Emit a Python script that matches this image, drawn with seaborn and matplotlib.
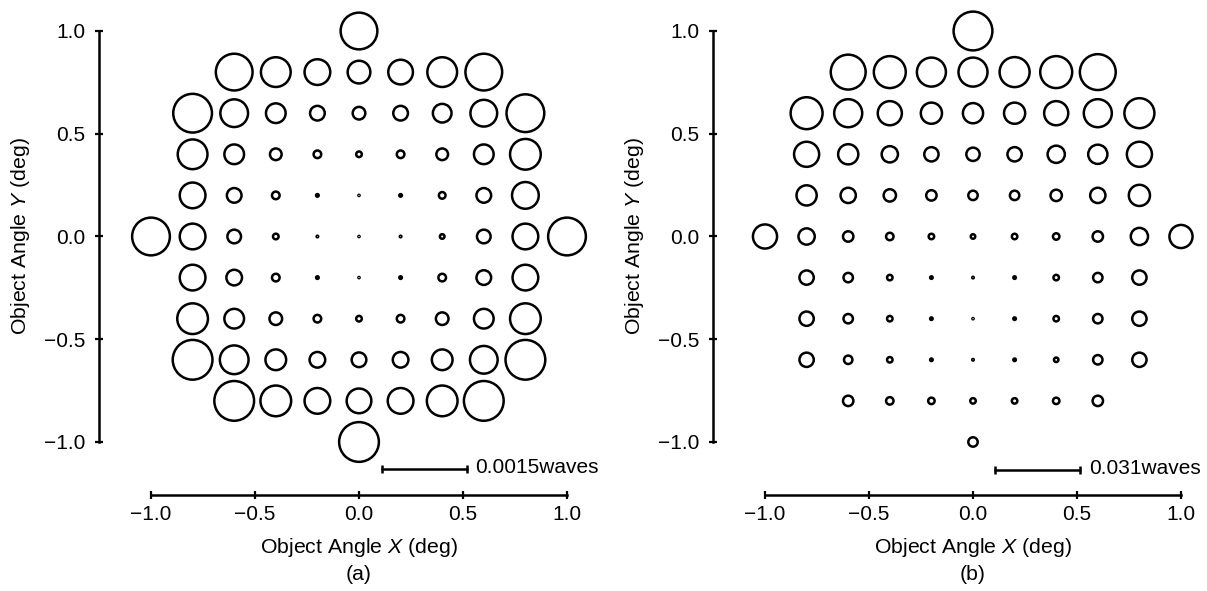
import numpy as np
import pandas as pd
import matplotlib
matplotlib.use("Agg")
import matplotlib.pyplot as plt
import seaborn as sns

# ---------------- data ----------------
field_x = [-1.0, -0.8, -0.6, -0.4, -0.2, 0.0, 0.2, 0.4, 0.6, 0.8, 1.0]
field_y = [1.0, 0.8, 0.6, 0.4, 0.2, 0.0, -0.2, -0.4, -0.6, -0.8, -1.0]
_ = None

# panel (a): wavefront error per field point, units of 1e-4 waves
wfe_a = [
    [_, _, _, _, _, 6.53, _, _, _, _, _],
    [_, _, 6.53, 5.30, 4.59, 4.06, 4.41, 5.30, 6.53, _, _],
    [_, 6.88, 4.94, 3.53, 2.65, 2.29, 2.65, 3.35, 4.77, 6.71, _],
    [_, 5.30, 3.53, 2.12, 1.41, 1.06, 1.41, 2.12, 3.53, 5.47, _],
    [_, 4.59, 2.65, 1.41, 0.53, 0.18, 0.53, 1.24, 2.65, 4.77, _],
    [6.71, 4.59, 2.47, 1.06, 0.35, 0.05, 0.35, 0.88, 2.47, 4.59, 6.71],
    [_, 4.59, 2.82, 1.41, 0.53, 0.18, 0.53, 1.41, 2.65, 4.59, _],
    [_, 5.47, 3.53, 2.29, 1.41, 1.06, 1.41, 2.29, 3.53, 5.47, _],
    [_, 7.06, 5.12, 3.71, 2.82, 2.65, 2.82, 3.71, 4.94, 7.06, _],
    [_, _, 7.06, 5.47, 4.59, 4.41, 4.59, 5.47, 7.06, _, _],
    [_, _, _, _, _, 7.06, _, _, _, _, _],
]
unit_a = 1e-4
scale_a = 0.0015
scale_label_a = "0.0015waves"

# panel (b): wavefront error per field point, units of 1e-3 waves
wfe_b = [
    [_, _, _, _, _, 14.25, _, _, _, _, _],
    [_, _, 12.83, 11.76, 10.69, 10.69, 11.05, 11.76, 13.18, _, _],
    [_, 11.76, 10.33, 8.91, 7.84, 7.48, 7.84, 8.91, 10.33, 11.05, _],
    [_, 9.26, 7.48, 6.06, 5.34, 4.99, 5.34, 6.41, 7.13, 9.26, _],
    [_, 7.48, 5.70, 4.63, 3.92, 3.56, 3.56, 4.28, 5.70, 7.84, _],
    [8.91, 6.06, 3.92, 2.85, 2.14, 1.78, 2.14, 2.49, 3.92, 6.41, 8.55],
    [_, 5.34, 3.56, 2.14, 1.07, 0.71, 1.07, 2.14, 3.56, 5.34, _],
    [_, 5.34, 3.56, 2.14, 1.07, 0.36, 1.07, 2.14, 3.56, 5.34, _],
    [_, 5.34, 3.21, 2.14, 1.07, 0.71, 1.07, 1.78, 3.56, 5.34, _],
    [_, _, 3.92, 2.85, 2.49, 2.14, 2.14, 2.49, 3.92, _, _],
    [_, _, _, _, _, 3.56, _, _, _, _, _],
]
unit_b = 1e-3
scale_b = 0.031
scale_label_b = "0.031waves"

ticks = [-1.0, -0.5, 0.0, 0.5, 1.0]
xlabel = "Object Angle $\\mathit{X}$ (deg)"
ylabel = "Object Angle $\\mathit{Y}$ (deg)"
panel_tags = ["(a)", "(b)"]

# ---------------- style ----------------
sns.set_theme(style="white")
plt.rcParams["font.family"] = ["Liberation Sans", "DejaVu Sans"]
plt.rcParams["mathtext.fontset"] = "custom"
plt.rcParams["mathtext.rm"] = "Liberation Sans"
plt.rcParams["mathtext.it"] = "Liberation Sans:italic"

W, H, DPI = 1207, 591, 100
fig = plt.figure(figsize=(W / DPI, H / DPI), dpi=DPI)
fig.patch.set_facecolor("white")

XLIM = (-1.25, 1.12)
YLIM = (-1.258, 1.12)
bar_len = 0.41          # data-units length of the scale bar
circle_lw = 1.8         # pt
FS_TICK = 15
FS_LAB = 15.3

def to_frame(grid, unit):
    rows = []
    for i, yy in enumerate(field_y):
        for j, xx in enumerate(field_x):
            v = grid[i][j]
            if v is not None:
                rows.append({"x": xx, "y": yy, "wfe": v * unit})
    return pd.DataFrame(rows)

panels = [
    (wfe_a, unit_a, scale_a, scale_label_a, 99, 0.11, -1.131),
    (wfe_b, unit_b, scale_b, scale_label_b, 713, 0.106, -1.136),
]

ax_w_px = (XLIM[1] - XLIM[0]) * 208
bottom_px = 495
top_px = 31 - (YLIM[1] - 1.0) * 205.5

for k, (grid, unit, scale, slabel, left_px, bar_x0, bar_y) in enumerate(panels):
    ax = fig.add_axes([left_px / W, 1 - bottom_px / H, ax_w_px / W,
                       (bottom_px - top_px) / H])
    ax.set_xlim(*XLIM)
    ax.set_ylim(*YLIM)
    ax.set_facecolor("white")

    df = to_frame(grid, unit)
    # circle diameter in data units, proportional to the wavefront error
    d_data = df["wfe"].to_numpy() / scale * bar_len
    px_per_unit = ax.transData.transform((1, 0))[0] - ax.transData.transform((0, 0))[0]
    d_px = np.clip(d_data * px_per_unit - 0.4, 1.2, None)
    s_pt2 = (d_px * 72 / DPI) ** 2

    sns.scatterplot(data=df, x="x", y="y", s=s_pt2, marker="o",
                    facecolor="none", edgecolor="black",
                    linewidth=circle_lw, ax=ax, legend=False, clip_on=False)
    for coll in ax.collections:
        coll.set_facecolor("none")
        coll.set_edgecolor("black")
        coll.set_linewidth(circle_lw)

    # scale bar
    ax.plot([bar_x0, bar_x0 + bar_len], [bar_y, bar_y], color="black",
            lw=1.8, marker="|", ms=6, mew=1.8, clip_on=False)
    ax.text(bar_x0 + bar_len + 0.04, bar_y + 0.005, slabel, ha="left",
            va="center", fontsize=FS_TICK, color="black")

    # axes styling
    for side in ["top", "right"]:
        ax.spines[side].set_visible(False)
    for side in ["left", "bottom"]:
        ax.spines[side].set_visible(True)
        ax.spines[side].set_color("black")
        ax.spines[side].set_linewidth(1.8)
        ax.spines[side].set_bounds(-1, 1)
    ax.set_xticks(ticks)
    ax.set_yticks(ticks)
    ax.tick_params(axis="both", direction="inout", length=6, width=1.6,
                   color="black", labelsize=FS_TICK, labelcolor="black",
                   bottom=True, left=True)
    ax.tick_params(axis="x", pad=4)
    ax.tick_params(axis="y", pad=7)
    ax.grid(False)

    ax.set_xlabel(xlabel, fontsize=FS_LAB, color="black")
    ax.set_ylabel(ylabel, fontsize=FS_LAB, color="black")
    x0_frac = (0 - XLIM[0]) / (XLIM[1] - XLIM[0])
    y0_frac = (0 - YLIM[0]) / (YLIM[1] - YLIM[0])
    ax_h_px = bottom_px - top_px
    ax.xaxis.set_label_coords(x0_frac, -(536 - bottom_px) / ax_h_px)
    ax.yaxis.set_label_coords((32 - 99) / ax_w_px, y0_frac)

    ax.text(0, -(574 - bottom_px) / ax_h_px, panel_tags[k],
            transform=ax.get_xaxis_transform(), ha="center", va="center",
            fontsize=FS_LAB, color="black")

fig.savefig("out.png", dpi=DPI, facecolor="white")
